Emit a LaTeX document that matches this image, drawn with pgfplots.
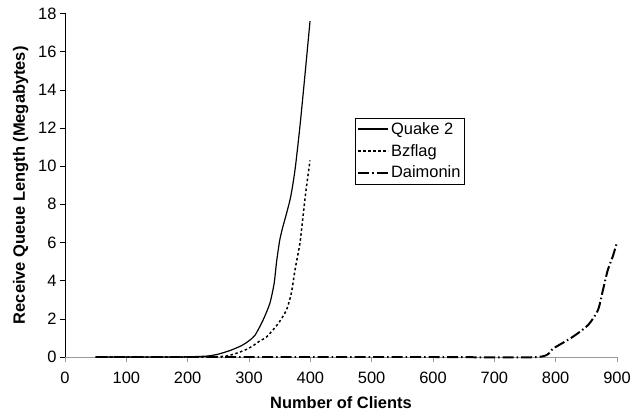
\documentclass[border=0pt]{standalone}
\usepackage{pgfplots}
\pgfplotsset{compat=1.18}
\usepackage{fontspec}
\setmainfont{Liberation Sans}
\begin{document}
\begin{tikzpicture}[x=1bp,y=1bp]
\begin{axis}[
  name=ax,
  at={(0,0)}, anchor=south west,
  scale only axis,
  width=552bp, height=343.5bp,
  xmin=0, xmax=900, ymin=0, ymax=18,
  xtick={0,100,...,900}, ytick={0,2,...,18},
  axis x line=bottom, axis y line=left,
  axis line style={-},
  x axis line style={draw=gray!80, line width=0.8pt},
  y axis line style={draw=black, line width=0.6pt},
  tick align=outside,
  major tick length=5bp,
  xtick style={draw=gray!80, line width=0.6pt},
  ytick style={draw=black, line width=0.6pt},
  /pgf/number format/assume math mode=true,
  ticklabel style={font=\fontsize{16.5}{18}\selectfont},
  xticklabel style={yshift=-6bp},
  xlabel={\bfseries Number of Clients},
  ylabel={\bfseries Receive Queue Length (Megabytes)},
  label style={font=\fontsize{16.5}{18}\selectfont\bfseries},
  xlabel style={yshift=-7bp},
  ylabel style={yshift=3bp},
  clip=false,
  legend style={at={(axis cs:472.5,12.55)}, anchor=north west, draw=black, line width=0.6pt,
    fill=white, font=\fontsize{16.5}{18}\selectfont, inner xsep=2bp, inner ysep=2.5bp,
    row sep=4.5bp, cells={anchor=west}},
  legend image code/.code={\draw[#1] (0bp,0bp) -- (30bp,0bp);},
]
\addplot[black, line width=1.2pt, smooth, tension=0.4] coordinates {
(50,0)(150,0)(200,0.01)(232,0.05)(250,0.15)(270,0.35)(288,0.6)(300,0.85)(310,1.15)(323,1.94)(334,2.81)(341,3.86)(345,5.0)(350,6.1)(355,6.8)(361,7.5)(368,8.4)(375,9.8)(383,12.07)(391,14.7)(399.5,17.6)
};
\addlegendentry{Quake 2}
\addplot[black, line width=1.5pt, dash pattern=on 2.5bp off 2.5bp, smooth, tension=0.4] coordinates {
(50,0)(200,0)(240,0.01)(263,0.05)(280,0.2)(296,0.4)(307,0.6)(318,0.85)(329,1.06)(348,1.77)(361,2.46)(369,3.34)(375,4.56)(383,5.96)(388,7.35)(393,8.75)(399.5,10.3)
};
\addlegendentry{Bzflag}
\addplot[black, line width=2pt, dash pattern=on 11bp off 3bp on 1.5bp off 3bp, smooth, tension=0.4] coordinates {
(50,0)(400,0)(600,0)(771,0)(796,0.45)(828,1.06)(853,1.68)(869,2.46)(877,3.5)(885,4.56)(893,5.26)(900,6.0)
};
\addlegendentry{Daimonin}
\end{axis}
\pgfresetboundingbox
\path ([xshift=-65bp,yshift=-60bp]ax.south west) rectangle ([xshift=15bp,yshift=13.5bp]ax.north east);
\end{tikzpicture}
\end{document}
